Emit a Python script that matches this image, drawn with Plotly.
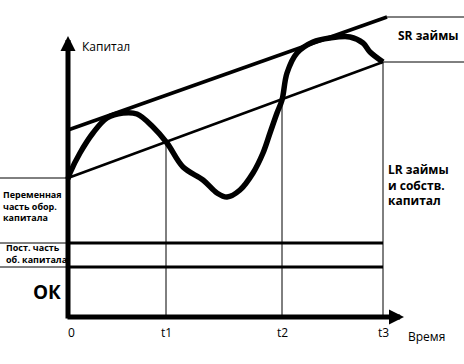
import plotly.graph_objects as go

# ---- data (time units on x, capital units on y; origin at axes corner) ----
curve_t = [0, 2, 12, 25, 39, 55, 69, 85, 99, 115, 135, 149, 159, 172, 185, 195,
           202, 209, 214, 219, 229, 245, 262, 282, 295, 302, 315]
curve_capital = [138, 144, 164, 184, 199, 204, 203, 190, 174, 150, 137, 124, 120,
                 127, 144, 164, 184, 204, 217, 244, 264, 275, 279, 280, 274, 265, 255]

sr_line_t = [0, 319]          # upper trend line (short-term loans boundary)
sr_line_capital = [187, 300]
lr_line_t = [0, 315]          # lower trend line (long-term + equity)
lr_line_capital = [139, 255]

const_levels = [74, 50]       # permanent part of working capital / OK
time_end = 315
tick_t = [0, 98, 214, 315]
tick_labels = ["0", "t1", "t2", "t3"]
label_right_end = 396
label_left_end = -68

FONT = "Open Sans"

fig = go.Figure()

def line(xs, ys, w, shape="linear"):
    fig.add_trace(go.Scatter(x=xs, y=ys, mode="lines",
                             line=dict(color="black", width=w, shape=shape),
                             hoverinfo="skip", showlegend=False))

# trend lines
line(sr_line_t, sr_line_capital, 3.5)
line(lr_line_t, lr_line_capital, 2.5)
# right-side label separators
line([sr_line_t[1], label_right_end], [sr_line_capital[1]] * 2, 1)
line([lr_line_t[1], label_right_end], [lr_line_capital[1]] * 2, 1)
# constant levels
for lv in const_levels:
    line([0, time_end], [lv, lv], 3)
    line([label_left_end, 0], [lv, lv], 1)
line([label_left_end, 0], [lr_line_capital[0]] * 2, 1)

# vertical time markers up to the lower trend line
def lr_at(t):
    return lr_line_capital[0] + (lr_line_capital[1] - lr_line_capital[0]) * (t - lr_line_t[0]) / (lr_line_t[1] - lr_line_t[0])

for t in tick_t[1:]:
    line([t, t], [0, lr_at(t)], 1)

# capital curve
line(curve_t, curve_capital, 5.5, "spline")

# axes with arrows
ann = []
ann.append(dict(x=0, y=281, ax=0, ay=-3, xref="x", yref="y", axref="x", ayref="y",
                showarrow=True, arrowhead=2, arrowwidth=5, arrowsize=0.6, arrowcolor="black", text=""))
ann.append(dict(x=336, y=0, ax=-2, ay=0, xref="x", yref="y", axref="x", ayref="y",
                showarrow=True, arrowhead=2, arrowwidth=5, arrowsize=0.6, arrowcolor="black", text=""))

for t, lab in zip(tick_t, tick_labels):
    ann.append(dict(x=t + (3 if lab == "0" else 0), y=-15, text=lab, showarrow=False,
                    font=dict(family=FONT, size=12, color="black"), xref="x", yref="y"))

ann.append(dict(x=338, y=-19, text="Время", showarrow=False, xanchor="left",
                font=dict(family=FONT, size=12, color="black")))
ann.append(dict(x=12, y=271, text="Капитал", showarrow=False, xanchor="left",
                font=dict(family=FONT, size=12, color="black")))
ann.append(dict(x=328, y=282, text="<b>SR займы</b>", showarrow=False, xanchor="left",
                font=dict(family=FONT, size=12, color="black")))
ann.append(dict(x=318, y=132, text="<b>LR займы<br>и собств.<br>капитал</b>", showarrow=False,
                xanchor="left", align="left",
                font=dict(family=FONT, size=12, color="black")))
ann.append(dict(x=-67, y=111, text="<b>Переменная<br>часть обор.<br>капитала</b>", showarrow=False,
                xanchor="left", align="left",
                font=dict(family=FONT, size=9, color="black")))
ann.append(dict(x=-64, y=64, text="<b>Пост. часть<br>об. капитала</b>", showarrow=False,
                xanchor="left", align="left",
                font=dict(family=FONT, size=9, color="black")))
ann.append(dict(x=-21, y=25, text="<b>ОК</b>", showarrow=False,
                font=dict(family=FONT, size=19, color="black")))

for a in ann:
    a.setdefault("xref", "x")
    a.setdefault("yref", "y")

fig.update_layout(
    width=464, height=364, margin=dict(l=0, r=0, t=0, b=0),
    paper_bgcolor="white", plot_bgcolor="white",
    xaxis=dict(range=[-68, 396], visible=False, fixedrange=True),
    yaxis=dict(range=[-47, 317], visible=False, fixedrange=True),
    annotations=ann, showlegend=False,
)

# remove the default page margin so the figure sits at the window's corner
fig.write_html("out.html", config={"displayModeBar": False},
               post_script="document.body.style.margin='0';")
